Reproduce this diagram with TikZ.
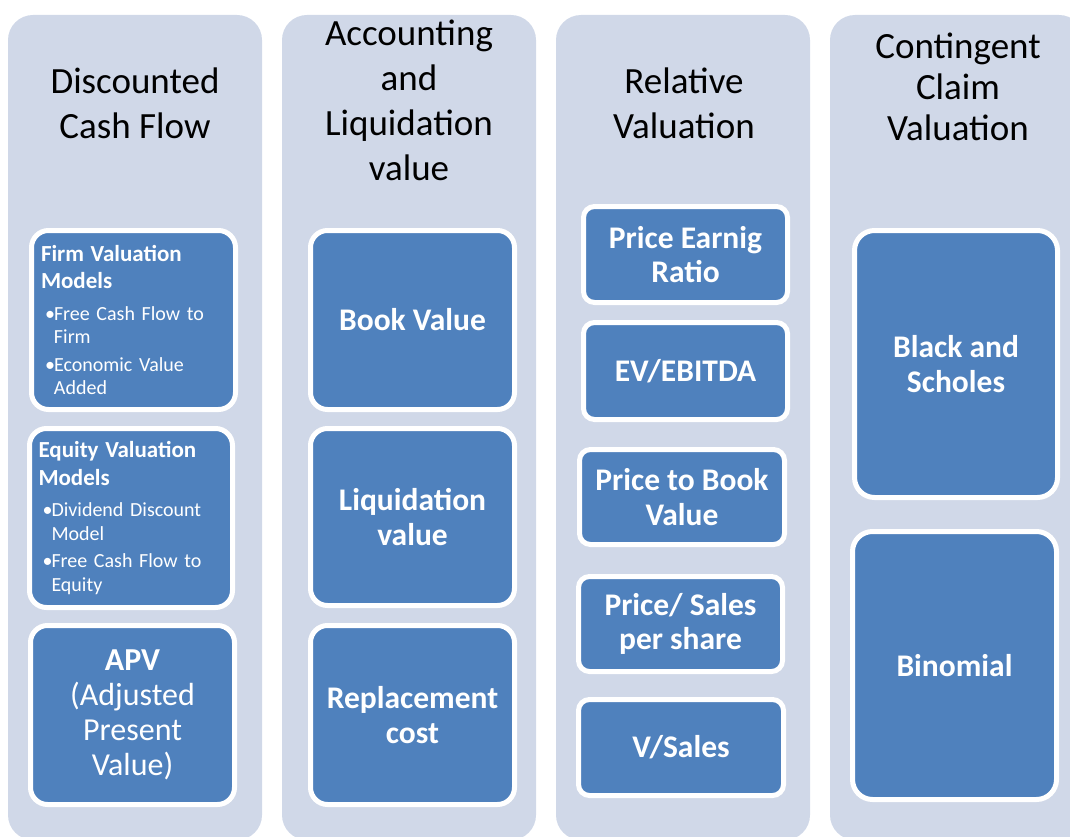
\documentclass[tikz,border=0pt]{standalone}
\usepackage{fontspec}
\setmainfont{Carlito}
\definecolor{lanebg}{RGB}{208,216,232}
\definecolor{boxblue}{RGB}{79,129,189}
\newcommand{\bul}[2]{\par\noindent\hspace*{4pt}\makebox[9pt][l]{\textbullet}#1\par\noindent\hspace*{13pt}#2\par}
\begin{document}
\begin{tikzpicture}[x=1pt,y=-1pt,
  lane/.style={fill=lanebg, rounded corners=25pt},
  heading/.style={font=\fontsize{37}{45}\selectfont, align=center, inner sep=0pt},
  box/.style={draw=white, line width=5pt, fill=boxblue, rounded corners=#1, text=white,
    font=\bfseries\fontsize{31.5}{34.5}\selectfont, align=center, inner sep=0pt},
  box/.default=17pt,
  listbox/.style={box, font=\fontsize{20}{23.5}\selectfont, align=left, text width=185pt}]
\useasboundingbox (0,0) rectangle (1070,837);
\clip (0,0) rectangle (1070,837);

\foreach \x in {8,282,556,830}
{
    \fill[lane] (\x,15) rectangle +(254,825);
}

\node[heading] (dcf) at (135,103) {Discounted\\Cash Flow};
\node[heading] (acc) at (409,100) {Accounting\\and\\Liquidation\\value};
\node[heading] (rel) at (684,103) {Relative\\Valuation};
\node[heading, font=\fontsize{37}{41}\selectfont] (ccv) at (958,87) {Contingent\\Claim\\Valuation};

% discounted cash flow
\node[listbox, minimum width=204pt, minimum height=179pt] (firm) at (133.5,320)
{{\bfseries\fontsize{23}{27.5}\selectfont Firm Valuation\\Models\par}\vspace{8pt}
 \bul{Free Cash Flow to}{Firm}\vspace{4pt}
 \bul{Economic Value}{Added}};
\node[listbox, minimum width=203pt, minimum height=179pt] (equity) at (131,518)
{{\bfseries\fontsize{23}{27.5}\selectfont Equity Valuation\\Models\par}\vspace{8pt}
 \bul{Dividend Discount}{Model}\vspace{4pt}
 \bul{Free Cash Flow to}{Equity}};
\node[box, minimum width=204pt, minimum height=179pt, font=\fontsize{32}{35}\selectfont] (apv) at (132.5,715)
{\textbf{APV}\\(Adjusted\\Present\\Value)};

% accounting and liquidation
\node[box, minimum width=204pt, minimum height=179pt] (book) at (412.5,320) {Book Value};
\node[box, minimum width=204pt, minimum height=177pt] (liq) at (412.5,517) {Liquidation\\value};
\node[box, minimum width=204pt, minimum height=179pt] (repl) at (412.5,715) {Replacement\\cost};

% relative valuation
\node[box=11pt, minimum width=204pt, minimum height=96pt] (pe) at (685.5,254.5) {Price Earnig\\Ratio};
\node[box=11pt, minimum width=204pt, minimum height=97pt] (ev) at (685.5,371) {EV/EBITDA};
\node[box=11pt, minimum width=205pt, minimum height=95pt] (pb) at (682,497) {Price to Book\\Value};
\node[box=11pt, minimum width=204pt, minimum height=95pt] (ps) at (680.5,624) {Price/ Sales\\per share};
\node[box=11pt, minimum width=205pt, minimum height=96pt] (vs) at (681,747.5) {V/Sales};

% contingent claim
\node[box=20pt, minimum width=203pt, minimum height=267pt] (bs) at (956,364) {Black and\\Scholes};
\node[box=20pt, minimum width=204pt, minimum height=268pt] (bin) at (954.5,665.5) {Binomial};
\end{tikzpicture}
\end{document}
